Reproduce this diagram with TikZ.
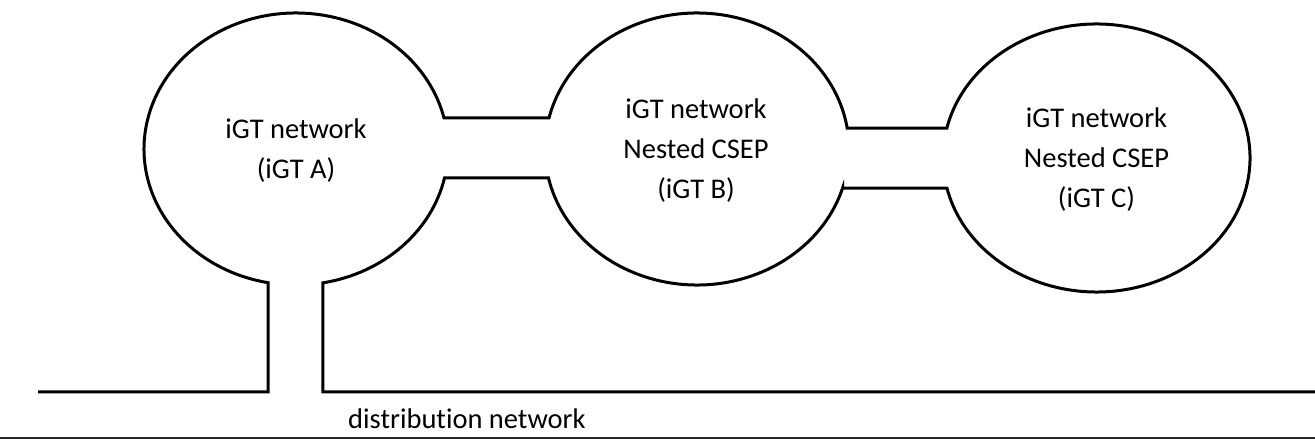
\documentclass[tikz,border=0pt]{standalone}
\usepackage{fontspec}
\setmainfont{Carlito}[Ligatures={NoCommon,NoContextual}]
\begin{document}
\begin{tikzpicture}[x=1pt,y=1pt,
  outline/.style={line width=3pt, line join=miter, black},
  baseline/.style={line width=2pt, black!85},
  lbl/.style={align=center, inner sep=0pt, font=\fontsize{28.5}{40}\selectfont}]
\useasboundingbox (0,0) rectangle (1315,439);
% centres of the three networks
\coordinate (A) at (296,290);
\coordinate (B) at (697,290);
\coordinate (C) at (1096.5,281);
% points where the outline leaves each ellipse
\path (A) ++(13.18:152 and 136) coordinate (Aur);
\path (A) ++(-12.31:152 and 136) coordinate (Alr);
\path (A) ++(259.39:152 and 136) coordinate (Abl);
\path (A) ++(280.23:152 and 136) coordinate (Abr);
\path (B) ++(166.82:152 and 136) coordinate (Bul);
\path (B) ++(-167.69:152 and 136) coordinate (Bll);
\path (B) ++(8.88:152 and 136) coordinate (Bur);
\path (B) ++(-16.66:152 and 136) coordinate (Blr);
\path (C) ++(167.06:153.5 and 134) coordinate (Cul);
\path (C) ++(-167.06:153.5 and 134) coordinate (Cll);
\coordinate (L0) at (38,47);
\coordinate (R0) at (1315,47);
% continuous outline
\draw[outline] (L0) -- (Abl |- L0) -- (Abl)
  arc[start angle=259.39, end angle=13.18, x radius=152, y radius=136]
  -- (Bul |- Aur) -- (Bul)
  arc[start angle=166.82, end angle=8.88, x radius=152, y radius=136]
  -- (Cul |- Bur) -- (Cul)
  arc[start angle=167.06, end angle=-167.06, x radius=153.5, y radius=134]
  -- (Blr |- Cll) -- (Blr)
  arc[start angle=-16.66, end angle=-167.69, x radius=152, y radius=136]
  -- (Alr |- Bll) -- (Alr)
  arc[start angle=-12.31, end angle=-79.77, x radius=152, y radius=136]
  -- (Abr |- R0) -- (R0);
% bottom line
\coordinate (D0) at (0,1.2);
\coordinate (D1) at (1315,1.2);
\draw[baseline] (D0) -- (D1);
% labels
\node[lbl] (tA) at (296,288) {iGT network\\(iGT A)};
\node[lbl] (tB) at (696,288) {iGT network\\Nested CSEP\\(iGT B)};
\node[lbl] (tC) at (1096.5,279) {iGT network\\Nested CSEP\\(iGT C)};
\node[lbl, anchor=base west] (tD) at (348,10) {distribution network};
\end{tikzpicture}
\end{document}
